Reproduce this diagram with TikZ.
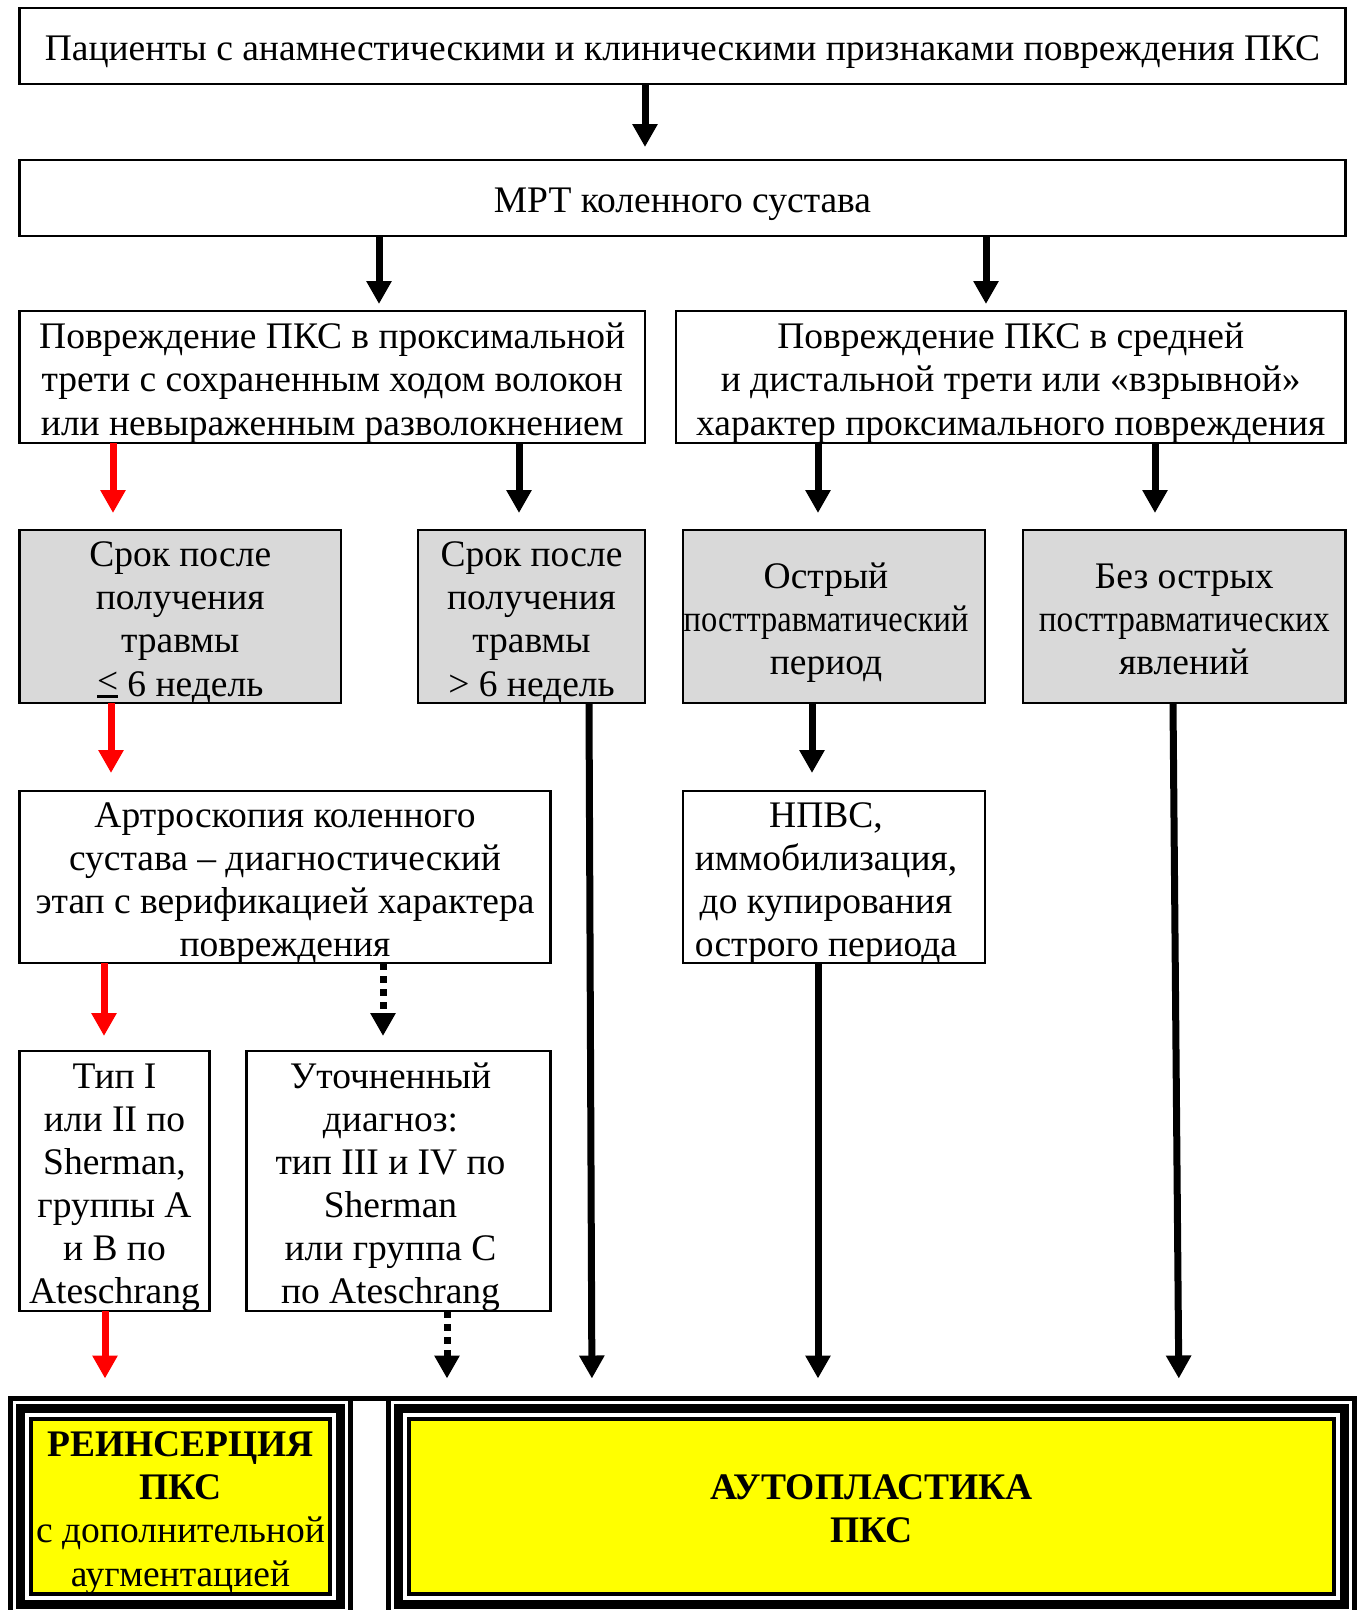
\documentclass[tikz,border=0pt]{standalone}
\usepackage{fontspec}
\setmainfont{Liberation Serif}
\usepackage{graphicx}
\usetikzlibrary{fit, arrows.meta}

\definecolor{boxgray}{RGB}{217,217,217}
\definecolor{markyellow}{RGB}{255,255,0}
\newcommand{\condensed}[2]{\scalebox{#1}[1]{#2}}
\newcommand{\lpad}{\kern16pt}
\newcommand{\firstline}{\rule{0pt}{38.2pt}}
\newcommand{\leqbar}{\mbox{\rlap{\raisebox{3pt}{<}}\rule[-1.5pt]{0.56em}{2.5pt}}}

\begin{document}
\begin{tikzpicture}[x=1pt, y=-1pt,
  every node/.style = {shape=rectangle, align=center,
    inner sep=-4pt, outer sep=0pt,
    font=\fontsize{37.5}{43.1}\selectfont},
  tstrut/.style = {execute at begin node={\firstline},
    execute at end node={\rule[-8.4pt]{0pt}{8.4pt}}},
  box/.style = {draw, line width=2.2pt, tstrut},
  grey/.style = {box, fill=boxgray},
  final/.style = {draw, line width=4pt, fill=markyellow, tstrut},
  frame/.style = {draw, line width=#1},
  arr/.style = {line width=7pt, -{Triangle[width=24pt, length=23pt]},
    shorten >=15pt},
  redarr/.style = {arr, red},
  dotarr/.style = {arr, dash pattern=on 7pt off 6pt}]
  \useasboundingbox (0,0) rectangle (1362,1610);
  \clip (0,0) rectangle (1362,1610);

  \node[box, minimum width=1326pt, minimum height=76pt] (patients) at (682.5,46)
    {Пациенты с анамнестическими и клиническими признаками повреждения ПКС};
  \node[box, minimum width=1326pt, minimum height=76pt] (mri) at (682.5,198)
    {МРТ коленного сустава};

  \node[box, minimum width=625.5pt, minimum height=132pt] (prox) at (332.25,377)
    {\firstline Повреждение ПКС в проксимальной\\ трети с сохраненным ходом волокон\\
     или невыраженным разволокнением};
  \node[box, minimum width=669.5pt, minimum height=132pt] (dist) at (1010.75,377)
    {\firstline Повреждение ПКС в средней\\ и дистальной трети или «взрывной»\\
     характер проксимального повреждения};

  \node[grey, minimum width=321.5pt, minimum height=173pt] (early) at (180.25,616.5)
    {\firstline Срок после\\ получения\\ травмы\\ \leqbar\ 6 недель};
  \node[grey, minimum width=227pt, minimum height=173pt] (late) at (531.5,616.5)
    {\firstline Срок после\\ получения\\ травмы\\ > 6 недель};
  \node[grey, minimum width=302pt, minimum height=173pt] (acute) at (834,616.5)
    {\firstline Острый\lpad\\ \condensed{0.865}{посттравматический}\lpad\\ период\lpad};
  \node[grey, minimum width=322.5pt, minimum height=173pt] (noacute) at (1184.25,616.5)
    {\firstline Без острых\\ \condensed{0.887}{посттравматических}\\ явлений};

  \node[box, minimum width=531pt, minimum height=172pt] (arthro) at (285,877)
    {\firstline Артроскопия коленного\\ сустава – диагностический\\
     этап с верификацией характера\\ повреждения};
  \node[box, minimum width=302pt, minimum height=172pt] (nsaid) at (834,877)
    {\firstline НПВС,\lpad\\ иммобилизация,\lpad\\ до купирования\lpad\\ острого периода\lpad};

  \node[box, minimum width=190pt, minimum height=260pt] (typeab) at (114.5,1181)
    {\firstline Тип I\\ или II по\\ Sherman,\\ группы A\\ и B по\\ Ateschrang};
  \node[box, minimum width=304pt, minimum height=260pt] (typecd) at (398.5,1181)
    {\firstline Уточненный\lpad\\ диагноз:\lpad\\ тип III и IV по\lpad\\ Sherman\lpad\\
     или группа C\lpad\\ по Ateschrang\lpad};

  % triple frames of the two outcomes
  \node[final, minimum width=299pt, minimum height=175pt] (reins) at (180.5,1506.5)
    {\firstline\textbf{РЕИНСЕРЦИЯ}\\ \textbf{ПКС}\\ с дополнительной\\ аугментацией};
  \node[frame=9pt, fit=(reins), inner sep=10.5pt] (reinsmid) {};
  \node[frame=5pt, fit=(reins), inner sep=20.5pt] (reinsout) {};
  \node[final, minimum width=925pt, minimum height=175pt] (auto) at (871.5,1506.5)
    {\firstline\textbf{АУТОПЛАСТИКА}\\ \textbf{ПКС}};
  \node[frame=9pt, fit=(auto), inner sep=10.5pt] (automid) {};
  \node[frame=5pt, fit=(auto), inner sep=20.5pt] (autoout) {};
  \draw[line width=5pt] (reinsout.north east) -- (autoout.north west);

  \draw[arr, shorten >=13pt] (patients.south -| 645,0) -- (mri.north -| 645,0);
  \draw[arr, shorten >=7pt] (mri.south -| 379,0) -- (prox.north -| 379,0);
  \draw[arr, shorten >=7pt] (mri.south -| 986,0) -- (dist.north -| 986,0);
  \draw[redarr, shorten >=17pt] (prox.south -| 113,0) -- (early.north -| 113,0);
  \draw[arr, shorten >=17pt] (prox.south -| 519,0) -- (late.north -| 519,0);
  \draw[arr, shorten >=17pt] (dist.south -| 818,0) -- (acute.north -| 818,0);
  \draw[arr, shorten >=17pt] (dist.south -| 1155,0) -- (noacute.north -| 1155,0);
  \draw[redarr, shorten >=18pt] (early.south -| 111,0) -- (arthro.north -| 111,0);
  \draw[arr, shorten >=18pt] (acute.south -| 812,0) -- (nsaid.north -| 812,0);
  \draw[redarr] (arthro.south -| 104,0) -- (typeab.north -| 104,0);
  \draw[dotarr] (arthro.south -| 383,0) -- (typecd.north -| 383,0);
  \draw[redarr, shorten >=20pt] (typeab.south -| 105,0) -- (reinsout.north -| 105,0);
  \draw[dotarr, shorten >=20pt] (typecd.south -| 447,0) -- (autoout.north -| 447,0);
  \draw[arr, shorten >=20pt] (late.south -| 589,0) -- (autoout.north -| 592,0);
  \draw[arr, shorten >=20pt] (nsaid.south -| 818,0) -- (autoout.north -| 818,0);
  \draw[arr, shorten >=20pt] (noacute.south -| 1173,0) -- (autoout.north -| 1179,0);
\end{tikzpicture}
\end{document}
